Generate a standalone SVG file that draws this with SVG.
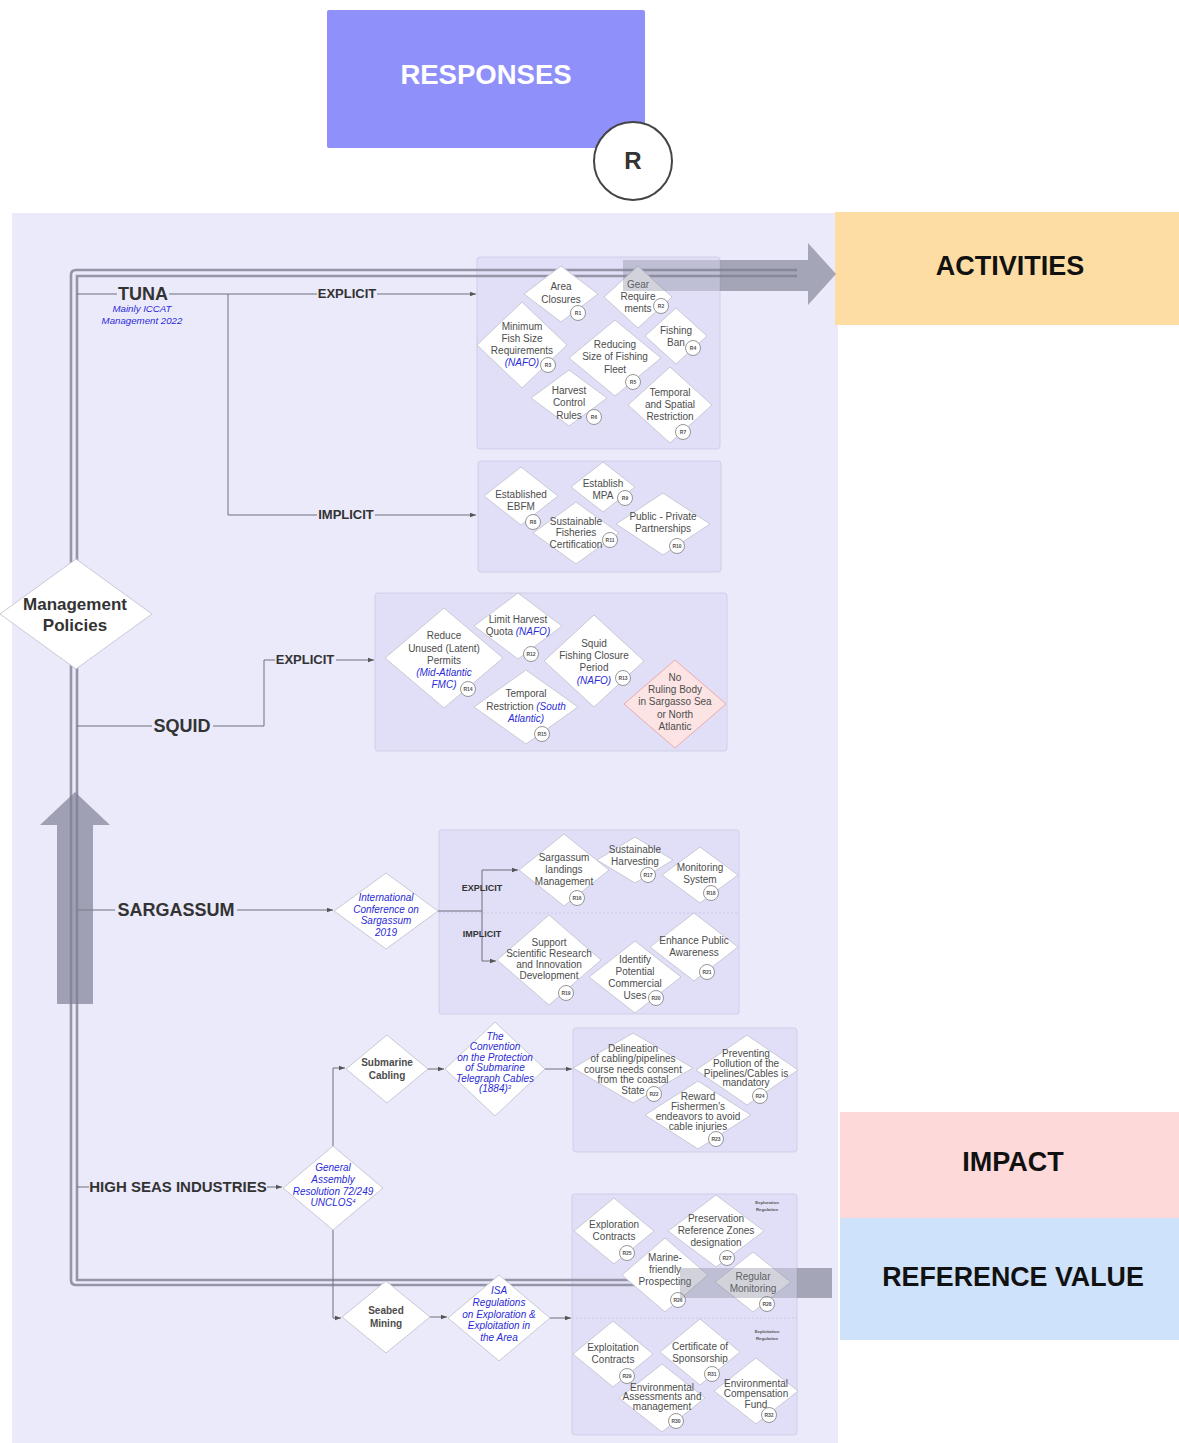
<svg xmlns="http://www.w3.org/2000/svg" width="1179" height="1443" viewBox="0 0 1179 1443">
<defs>
<style>
text{font-family:"Liberation Sans",Arial,sans-serif}
.nd{fill:#fff;stroke:#c9c9d6;stroke-width:1}
.nt{font-size:10px;fill:#4d4d4d;text-anchor:middle}
.bl{fill:#2b2bd6;font-style:italic}
.bd circle{fill:#fff;stroke:#8a8a8a;stroke-width:0.9}
.bd text{font-size:5px;fill:#555;text-anchor:middle;font-weight:bold}
.box{fill:#dcdbf6;fill-opacity:.75;stroke:#cfcee8;stroke-width:1}
.cn{fill:none;stroke:#6e6e7a;stroke-width:1}
.loop{fill:none;stroke:#9495a6;stroke-width:2.6}
.lb{font-weight:bold;fill:#333}
.hd{font-weight:bold;text-anchor:middle}
.rg{font-size:4.3px;font-weight:bold;fill:#555;text-anchor:middle}
</style>
<marker id="ah" viewBox="0 0 6 6" refX="6" refY="3" markerWidth="6" markerHeight="6" orient="auto" markerUnits="userSpaceOnUse"><path d="M0,0.8 L6,3 L0,5.2z" fill="#555"/></marker>
</defs>

<!-- page background and working panel -->
<rect width="1179" height="1443" fill="#fff"/>
<rect x="12" y="213" width="826" height="1230" fill="#ebeafb"/>

<!-- headings -->
<g id="responses">
<rect x="327" y="10" width="318" height="138" rx="2" fill="#9090fb"/>
<text x="486" y="84" class="hd" font-size="27.5" fill="#fff">RESPONSES</text>
</g>
<g id="r-badge">
<circle cx="633" cy="161" r="39" fill="#fff" stroke="#444" stroke-width="2"/>
<text x="633" y="169" class="hd" font-size="24" fill="#333">R</text>
</g>
<g id="activities">
<rect x="835" y="212" width="344" height="113" fill="#fddda4"/>
<text x="1010" y="275" class="hd" font-size="27" fill="#111">ACTIVITIES</text>
</g>
<g id="impact">
<rect x="840" y="1112" width="339" height="106" fill="#fdd9d9"/>
<text x="1013" y="1171" class="hd" font-size="27" fill="#111">IMPACT</text>
</g>
<g id="reference-value">
<rect x="840" y="1218" width="339" height="122" fill="#cfe2fb"/>
<text x="1013" y="1286" class="hd" font-size="26.8" fill="#111">REFERENCE VALUE</text>
</g>

<!-- group boxes -->
<g id="boxes">
<rect class="box" x="477" y="257" width="243" height="192" rx="3"/>
<rect class="box" x="478" y="461" width="243" height="111" rx="3"/>
<rect class="box" x="375" y="593" width="352" height="158" rx="3"/>
<rect class="box" x="439" y="830" width="300" height="184" rx="2"/>
<line x1="439" y1="913" x2="739" y2="913" stroke="#c9c8e4" stroke-dasharray="2 2"/>
<rect class="box" x="573" y="1028" width="224" height="124" rx="3"/>
<rect class="box" x="572" y="1194" width="225" height="241" rx="3"/>
<line x1="572" y1="1318" x2="797" y2="1318" stroke="#c9c8e4" stroke-dasharray="2 2"/>
<text class="rg" x="767" y="1204">Exploration</text>
<text class="rg" x="767" y="1211">Regulation</text>
<text class="rg" x="767" y="1333">Exploitation</text>
<text class="rg" x="767" y="1340">Regulation</text>
</g>

<!-- connectors -->
<g id="connectors">
<path class="loop" d="M797,270 H76 Q71,270 71,275 V1280 Q71,1285 76,1285 H690"/>
<path class="loop" d="M797,276 H77 V1280 H690"/>
<path class="cn" d="M77,294 H117"/>
<path class="cn" d="M169,294 H317"/>
<path class="cn" d="M377,294 H476" marker-end="url(#ah)"/>
<path class="cn" d="M228,294 V515 H317"/>
<path class="cn" d="M375,515 H476" marker-end="url(#ah)"/>
<path class="cn" d="M77,726 H152"/>
<path class="cn" d="M213,726 H264 V660 H275"/>
<path class="cn" d="M336,660 H374" marker-end="url(#ah)"/>
<path class="cn" d="M77,910 H115"/>
<path class="cn" d="M237,910 H333" marker-end="url(#ah)"/>
<path class="cn" d="M438,911 H482"/>
<path class="cn" d="M482,911 V870 H518" marker-end="url(#ah)"/>
<path class="cn" d="M482,911 V961 H496" marker-end="url(#ah)"/>
<path class="cn" d="M77,1187 H89"/>
<path class="cn" d="M267,1187 H282" marker-end="url(#ah)"/>
<path class="cn" d="M333,1146 V1068 H345" marker-end="url(#ah)"/>
<path class="cn" d="M428,1069 H444" marker-end="url(#ah)"/>
<path class="cn" d="M545,1069 H572" marker-end="url(#ah)"/>
<path class="cn" d="M333,1230 V1318 H341" marker-end="url(#ah)"/>
<path class="cn" d="M430,1317 H447" marker-end="url(#ah)"/>
<path class="cn" d="M550,1318 H571" marker-end="url(#ah)"/>
</g>

<!-- branch labels -->
<g id="branch-labels">
<text class="lb" x="143" y="300" font-size="18" text-anchor="middle">TUNA</text>
<text class="bl" x="142" y="312" font-size="9.7" text-anchor="middle">Mainly ICCAT</text>
<text class="bl" x="142" y="324" font-size="9.7" text-anchor="middle">Management 2022</text>
<text class="lb" x="347" y="298" font-size="13" text-anchor="middle">EXPLICIT</text>
<text class="lb" x="346" y="519" font-size="13" text-anchor="middle">IMPLICIT</text>
<text class="lb" x="182" y="732" font-size="18" text-anchor="middle">SQUID</text>
<text class="lb" x="305" y="664" font-size="13" text-anchor="middle">EXPLICIT</text>
<text class="lb" x="176" y="916" font-size="18" text-anchor="middle">SARGASSUM</text>
<text class="lb" x="482" y="891" font-size="9" text-anchor="middle">EXPLICIT</text>
<text class="lb" x="482" y="937" font-size="9" text-anchor="middle">IMPLICIT</text>
<text class="lb" x="178" y="1192" font-size="15" text-anchor="middle">HIGH SEAS INDUSTRIES</text>
</g>

<!-- root -->
<g id="management-policies">
<polygon class="nd" points="76,559 152,614 76,669 0,614"/>
<text class="lb" x="75" y="610" font-size="17" text-anchor="middle">Management</text>
<text class="lb" x="75" y="631" font-size="17" text-anchor="middle">Policies</text>
</g>

<!-- TUNA explicit -->
<g id="r1"><polygon class="nd" points="561,266 598,294 561,322 524,294"/>
<text class="nt" x="561" y="290">Area</text><text class="nt" x="561" y="303">Closures</text>
<g class="bd"><circle cx="578" cy="313" r="7.5"/><text x="578" y="314.8">R1</text></g></g>
<g id="r2"><polygon class="nd" points="638,266 672,297 638,328 604,297"/>
<text class="nt" x="638" y="288">Gear</text><text class="nt" x="638" y="300">Require</text><text class="nt" x="638" y="312">ments</text>
<g class="bd"><circle cx="661" cy="306" r="7.5"/><text x="661" y="307.8">R2</text></g></g>
<g id="r3"><polygon class="nd" points="522,302 567,345 522,388 477,345"/>
<text class="nt" x="522" y="330">Minimum</text><text class="nt" x="522" y="342">Fish Size</text><text class="nt" x="522" y="354">Requirements</text><text class="nt bl" x="522" y="366">(NAFO)</text>
<g class="bd"><circle cx="548" cy="365" r="7.5"/><text x="548" y="366.8">R3</text></g></g>
<g id="r4"><polygon class="nd" points="676,308 707,336 676,364 645,336"/>
<text class="nt" x="676" y="334">Fishing</text><text class="nt" x="676" y="346">Ban</text>
<g class="bd"><circle cx="693" cy="348" r="7.5"/><text x="693" y="349.8">R4</text></g></g>
<g id="r5"><polygon class="nd" points="615,320 661,358 615,396 569,358"/>
<text class="nt" x="615" y="348">Reducing</text><text class="nt" x="615" y="360">Size of Fishing</text><text class="nt" x="615" y="373">Fleet</text>
<g class="bd"><circle cx="633" cy="382" r="7.5"/><text x="633" y="383.8">R5</text></g></g>
<g id="r6"><polygon class="nd" points="569,370 607,398 569,426 531,398"/>
<text class="nt" x="569" y="394">Harvest</text><text class="nt" x="569" y="406">Control</text><text class="nt" x="569" y="419">Rules</text>
<g class="bd"><circle cx="594" cy="417" r="7.5"/><text x="594" y="418.8">R6</text></g></g>
<g id="r7"><polygon class="nd" points="670,367 712,405 670,443 628,405"/>
<text class="nt" x="670" y="396">Temporal</text><text class="nt" x="670" y="408">and Spatial</text><text class="nt" x="670" y="420">Restriction</text>
<g class="bd"><circle cx="683" cy="432" r="7.5"/><text x="683" y="433.8">R7</text></g></g>

<!-- TUNA implicit -->
<g id="r8"><polygon class="nd" points="521,467 558,496 521,525 484,496"/>
<text class="nt" x="521" y="498">Established</text><text class="nt" x="521" y="510">EBFM</text>
<g class="bd"><circle cx="533" cy="522" r="7.5"/><text x="533" y="523.8">R8</text></g></g>
<g id="r9"><polygon class="nd" points="603,462 635,487 603,512 571,487"/>
<text class="nt" x="603" y="487">Establish</text><text class="nt" x="603" y="499">MPA</text>
<g class="bd"><circle cx="625" cy="498" r="7.5"/><text x="625" y="499.8">R9</text></g></g>
<g id="r11"><polygon class="nd" points="576,502 619,533 576,564 533,533"/>
<text class="nt" x="576" y="525" font-size="9.2">Sustainable</text><text class="nt" x="576" y="536" font-size="9.2">Fisheries</text><text class="nt" x="576" y="548" font-size="9.2">Certification</text>
<g class="bd"><circle cx="610" cy="540" r="7.5"/><text x="610" y="541.8">R11</text></g></g>
<g id="r10"><polygon class="nd" points="663,493 710,524 663,555 616,524"/>
<text class="nt" x="663" y="520">Public - Private</text><text class="nt" x="663" y="532">Partnerships</text>
<g class="bd"><circle cx="677" cy="546" r="7.5"/><text x="677" y="547.8">R10</text></g></g>

<!-- SQUID -->
<g id="r14"><polygon class="nd" points="444,608 503,658 444,708 385,658"/>
<text class="nt" x="444" y="639" font-size="10.3">Reduce</text><text class="nt" x="444" y="652" font-size="10.3">Unused (Latent)</text><text class="nt" x="444" y="664" font-size="10.3">Permits</text><text class="nt bl" x="444" y="676" font-size="10.3">(Mid-Atlantic</text><text class="nt bl" x="444" y="688" font-size="10.3">FMC)</text>
<g class="bd"><circle cx="468" cy="689" r="7.5"/><text x="468" y="690.8">R14</text></g></g>
<g id="r12"><polygon class="nd" points="518,593 562,626 518,659 474,626"/>
<text class="nt" x="518" y="623" font-size="10.3">Limit Harvest</text><text class="nt" x="518" y="635" font-size="10.3">Quota <tspan class="bl">(NAFO)</tspan></text>
<g class="bd"><circle cx="531" cy="654" r="7.5"/><text x="531" y="655.8">R12</text></g></g>
<g id="r13"><polygon class="nd" points="594,615 644,661 594,707 544,661"/>
<text class="nt" x="594" y="647" font-size="10.3">Squid</text><text class="nt" x="594" y="659" font-size="10.3">Fishing Closure</text><text class="nt" x="594" y="671" font-size="10.3">Period</text><text class="nt bl" x="594" y="684" font-size="10.3">(NAFO)</text>
<g class="bd"><circle cx="623" cy="678" r="7.5"/><text x="623" y="679.8">R13</text></g></g>
<g id="r15"><polygon class="nd" points="526,670 578,707 526,744 474,707"/>
<text class="nt" x="526" y="697" font-size="10.3">Temporal</text><text class="nt" x="526" y="710" font-size="10.3">Restriction <tspan class="bl">(South</tspan></text><text class="nt bl" x="526" y="722" font-size="10.3">Atlantic)</text>
<g class="bd"><circle cx="542" cy="734" r="7.5"/><text x="542" y="735.8">R15</text></g></g>
<g id="no-ruling-body"><polygon points="675,660 726,704 675,748 624,704" fill="#fde4e4" stroke="#eeaaaa"/>
<text class="nt" x="675" y="681" font-size="10.3">No</text><text class="nt" x="675" y="693" font-size="10.3">Ruling Body</text><text class="nt" x="675" y="705" font-size="10.3">in Sargasso Sea</text><text class="nt" x="675" y="718" font-size="10.3">or North</text><text class="nt" x="675" y="730" font-size="10.3">Atlantic</text></g>

<!-- SARGASSUM -->
<g id="conference"><polygon class="nd" points="386,873 438,911 386,949 334,911"/>
<text class="nt bl" x="386" y="901" font-size="9.7">International</text><text class="nt bl" x="386" y="913" font-size="9.7">Conference on</text><text class="nt bl" x="386" y="924" font-size="9.7">Sargassum</text><text class="nt bl" x="386" y="936" font-size="9.7">2019</text></g>
<g id="r16"><polygon class="nd" points="564,834 609,870 564,906 519,870"/>
<text class="nt" x="564" y="861" font-size="9.7">Sargassum</text><text class="nt" x="564" y="873" font-size="9.7">landings</text><text class="nt" x="564" y="885" font-size="9.7">Management</text>
<g class="bd"><circle cx="577" cy="898" r="7.5"/><text x="577" y="899.8">R16</text></g></g>
<g id="r17"><polygon class="nd" points="635,837 673,860 635,883 597,860"/>
<text class="nt" x="635" y="853" font-size="9.7">Sustainable</text><text class="nt" x="635" y="865" font-size="9.7">Harvesting</text>
<g class="bd"><circle cx="648" cy="875" r="7.5"/><text x="648" y="876.8">R17</text></g></g>
<g id="r18"><polygon class="nd" points="700,847 738,875 700,903 662,875"/>
<text class="nt" x="700" y="871" font-size="9.7">Monitoring</text><text class="nt" x="700" y="883" font-size="9.7">System</text>
<g class="bd"><circle cx="711" cy="893" r="7.5"/><text x="711" y="894.8">R18</text></g></g>
<g id="r19"><polygon class="nd" points="549,915 601,960 549,1005 497,960"/>
<text class="nt" x="549" y="946" font-size="9">Support</text><text class="nt" x="549" y="957" font-size="9">Scientific Research</text><text class="nt" x="549" y="968" font-size="9">and Innovation</text><text class="nt" x="549" y="979" font-size="9">Development</text>
<g class="bd"><circle cx="566" cy="993" r="7.5"/><text x="566" y="994.8">R19</text></g></g>
<g id="r20"><polygon class="nd" points="635,941 681,977 635,1013 589,977"/>
<text class="nt" x="635" y="963" font-size="9.7">Identify</text><text class="nt" x="635" y="975" font-size="9.7">Potential</text><text class="nt" x="635" y="987" font-size="9.7">Commercial</text><text class="nt" x="635" y="999" font-size="9.7">Uses</text>
<g class="bd"><circle cx="656" cy="998" r="7.5"/><text x="656" y="999.8">R20</text></g></g>
<g id="r21"><polygon class="nd" points="694,913 738,947 694,981 650,947"/>
<text class="nt" x="694" y="944" font-size="9.7">Enhance Public</text><text class="nt" x="694" y="956" font-size="9.7">Awareness</text>
<g class="bd"><circle cx="707" cy="972" r="7.5"/><text x="707" y="973.8">R21</text></g></g>

<!-- HIGH SEAS INDUSTRIES -->
<g id="general-assembly"><polygon class="nd" points="333,1146 383,1188 333,1230 283,1188"/>
<text class="nt bl" x="333" y="1171" font-size="9.7">General</text><text class="nt bl" x="333" y="1183" font-size="9.7">Assembly</text><text class="nt bl" x="333" y="1195" font-size="9.7">Resolution 72/249</text><text class="nt bl" x="333" y="1206" font-size="9.7">UNCLOS<tspan font-size="6" dy="-3">4</tspan></text></g>
<g id="submarine-cabling"><polygon class="nd" points="387,1035 428,1069 387,1103 346,1069"/>
<text class="nt" x="387" y="1066" font-size="10.5" font-weight="bold" fill="#444">Submarine</text><text class="nt" x="387" y="1079" font-size="10.5" font-weight="bold" fill="#444">Cabling</text></g>
<g id="cables-convention"><polygon class="nd" points="495,1022 545,1069 495,1116 445,1069"/>
<text class="nt bl" x="495" y="1040" font-size="9.3">The</text><text class="nt bl" x="495" y="1050" font-size="9.3">Convention</text><text class="nt bl" x="495" y="1061" font-size="9.3">on the Protection</text><text class="nt bl" x="495" y="1071" font-size="9.3">of Submarine</text><text class="nt bl" x="495" y="1082" font-size="9.3">Telegraph Cables</text><text class="nt bl" x="495" y="1092" font-size="9.3">(1884)<tspan font-size="6" dy="-3">3</tspan></text></g>
<g id="r22"><polygon class="nd" points="633,1033 693,1068 633,1103 573,1068"/>
<text class="nt" x="633" y="1052" font-size="8.5">Delineation</text><text class="nt" x="633" y="1062" font-size="8.5">of cabling/pipelines</text><text class="nt" x="633" y="1073" font-size="8.5">course needs consent</text><text class="nt" x="633" y="1083" font-size="8.5">from the  coastal</text><text class="nt" x="633" y="1094" font-size="8.5">State</text>
<g class="bd"><circle cx="654" cy="1094" r="7.5"/><text x="654" y="1095.8">R22</text></g></g>
<g id="r24"><polygon class="nd" points="747,1035 798,1070 747,1105 696,1070"/>
<text class="nt" x="746" y="1057" font-size="7.6">Preventing</text><text class="nt" x="746" y="1067" font-size="7.6">Pollution of the</text><text class="nt" x="746" y="1077" font-size="7.6">Pipelines/Cables is</text><text class="nt" x="746" y="1086" font-size="7.6">mandatory</text>
<g class="bd"><circle cx="760" cy="1096" r="7.5"/><text x="760" y="1097.8">R24</text></g></g>
<g id="r23"><polygon class="nd" points="698,1081 751,1115 698,1149 645,1115"/>
<text class="nt" x="698" y="1100" font-size="8.5">Reward</text><text class="nt" x="698" y="1110" font-size="8.5">Fishermen's</text><text class="nt" x="698" y="1120" font-size="8.5">endeavors to avoid</text><text class="nt" x="698" y="1130" font-size="8.5">cable injuries</text>
<g class="bd"><circle cx="716" cy="1139" r="7.5"/><text x="716" y="1140.8">R23</text></g></g>
<g id="seabed-mining"><polygon class="nd" points="386,1281 430,1317 386,1353 342,1317"/>
<text class="nt" x="386" y="1314" font-size="10.5" font-weight="bold" fill="#444">Seabed</text><text class="nt" x="386" y="1327" font-size="10.5" font-weight="bold" fill="#444">Mining</text></g>
<g id="isa-regulations"><polygon class="nd" points="499,1275 550,1318 499,1361 448,1318"/>
<text class="nt bl" x="499" y="1294" font-size="9.8">ISA</text><text class="nt bl" x="499" y="1306" font-size="9.8">Regulations</text><text class="nt bl" x="499" y="1318" font-size="9.8">on Exploration &amp;</text><text class="nt bl" x="499" y="1329" font-size="9.8">Exploitation in</text><text class="nt bl" x="499" y="1341" font-size="9.8">the Area</text></g>
<g id="r25"><polygon class="nd" points="614,1198 654,1231 614,1264 574,1231"/>
<text class="nt" x="614" y="1228">Exploration</text><text class="nt" x="614" y="1240">Contracts</text>
<g class="bd"><circle cx="627" cy="1253" r="7.5"/><text x="627" y="1254.8">R25</text></g></g>
<g id="r27"><polygon class="nd" points="716,1195 764,1231 716,1267 668,1231"/>
<text class="nt" x="716" y="1222">Preservation</text><text class="nt" x="716" y="1234">Reference Zones</text><text class="nt" x="716" y="1246">designation</text>
<g class="bd"><circle cx="727" cy="1258" r="7.5"/><text x="727" y="1259.8">R27</text></g></g>
<g id="r26"><polygon class="nd" points="665,1238 708,1275 665,1312 622,1275"/>
<text class="nt" x="665" y="1261">Marine-</text><text class="nt" x="665" y="1273">friendly</text><text class="nt" x="665" y="1285">Prospecting</text>
<g class="bd"><circle cx="678" cy="1300" r="7.5"/><text x="678" y="1301.8">R26</text></g></g>
<g id="r28"><polygon class="nd" points="753,1252 791,1282 753,1312 715,1282"/>
<text class="nt" x="753" y="1280">Regular</text><text class="nt" x="753" y="1292">Monitoring</text>
<g class="bd"><circle cx="767" cy="1304" r="7.5"/><text x="767" y="1305.8">R28</text></g></g>
<g id="r29"><polygon class="nd" points="613,1321 653,1354 613,1387 573,1354"/>
<text class="nt" x="613" y="1351">Exploitation</text><text class="nt" x="613" y="1363">Contracts</text>
<g class="bd"><circle cx="627" cy="1376" r="7.5"/><text x="627" y="1377.8">R29</text></g></g>
<g id="r31"><polygon class="nd" points="700,1319 740,1352 700,1385 660,1352"/>
<text class="nt" x="700" y="1350">Certificate of</text><text class="nt" x="700" y="1362">Sponsorship</text>
<g class="bd"><circle cx="712" cy="1374" r="7.5"/><text x="712" y="1375.8">R31</text></g></g>
<g id="r30"><polygon class="nd" points="662,1364 705,1398 662,1432 619,1398"/>
<text class="nt" x="662" y="1391" font-size="8">Environmental</text><text class="nt" x="662" y="1400" font-size="8">Assessments and</text><text class="nt" x="662" y="1410" font-size="8">management</text>
<g class="bd"><circle cx="676" cy="1421" r="7.5"/><text x="676" y="1422.8">R30</text></g></g>
<g id="r32"><polygon class="nd" points="756,1358 798,1391 756,1424 714,1391"/>
<text class="nt" x="756" y="1387">Environmental</text><text class="nt" x="756" y="1397">Compensation</text><text class="nt" x="756" y="1408">Fund</text>
<g class="bd"><circle cx="769" cy="1415" r="7.5"/><text x="769" y="1416.8">R32</text></g></g>

<!-- flow arrows across the panel -->
<g id="flow-arrows" fill="#7f8094">
<rect x="623" y="260" width="97" height="31" opacity=".35"/>
<path d="M720,260 H808 V243 L836,274 L808,305 V291 H720 Z" opacity=".65"/>
<rect x="680" y="1268" width="117" height="30" opacity=".35"/>
<rect x="797" y="1268" width="35" height="30" opacity=".65"/>
<path d="M57,1004 V825 H40 L75,792 L110,825 H93 V1004 Z" opacity=".7"/>
</g>
</svg>
